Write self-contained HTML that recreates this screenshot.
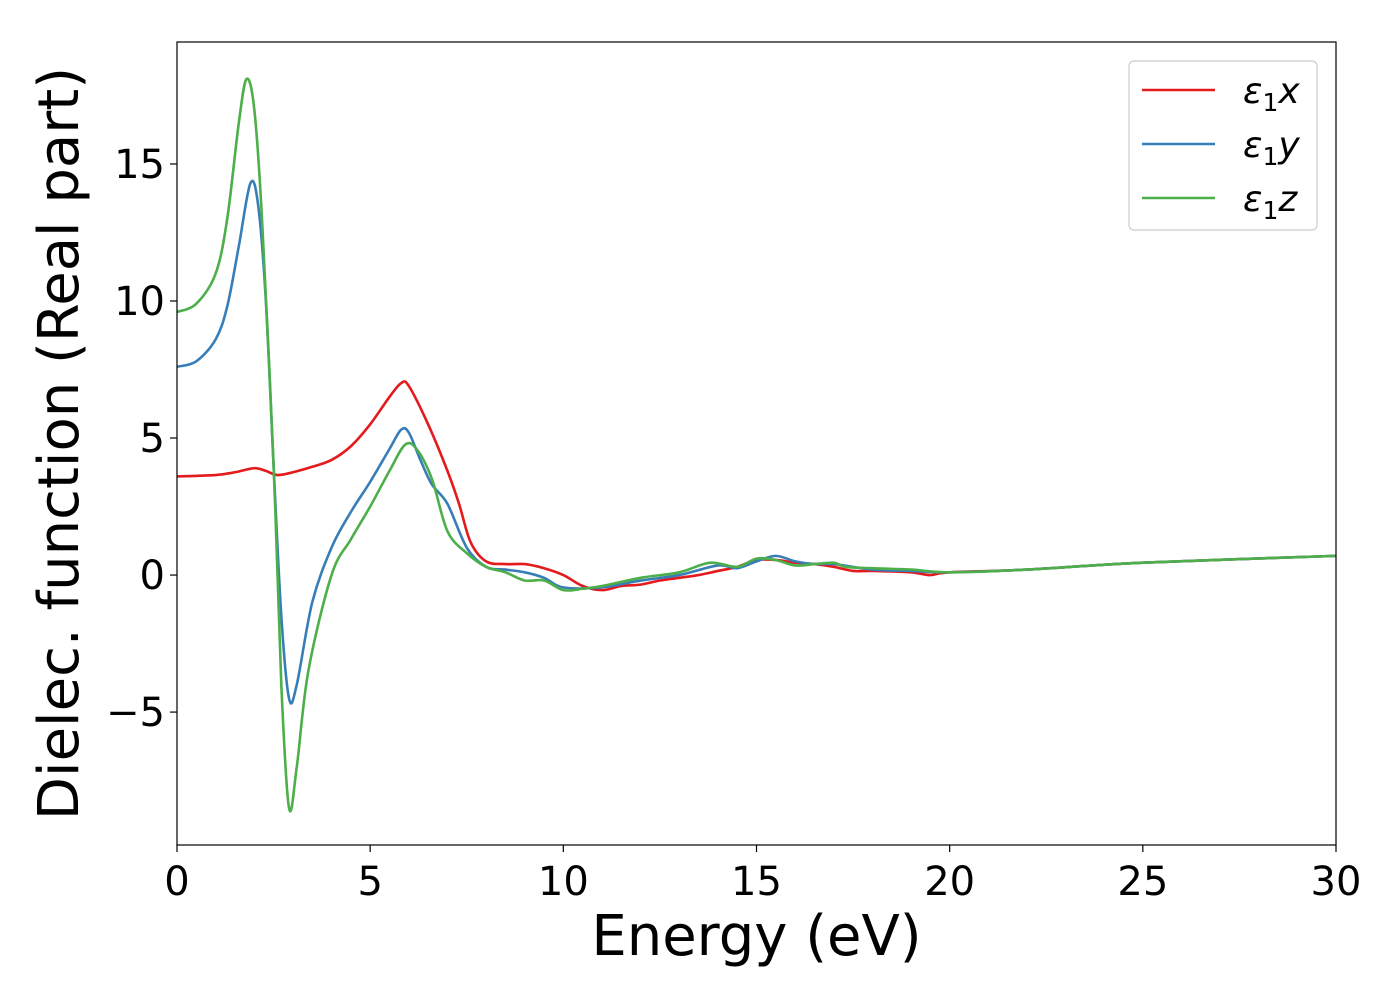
<!DOCTYPE html>
<html><head><meta charset="utf-8"><style>
body{margin:0;background:#fff}
svg text{font-family:"DejaVu Sans","Liberation Sans",sans-serif;fill:#000}
</style></head><body>
<svg id="chart" width="1400" height="1000" xmlns="http://www.w3.org/2000/svg">
<rect width="1400" height="1000" fill="#fff"/>
<g id="plot"></g>
</svg>
<script>
const xTicks=[0,5,10,15,20,25,30];
const yTicks=[-5,0,5,10,15];
const yTickLabels=["\u22125","0","5","10","15"];
const seriesNames=["ε1x","ε1y","ε1z"];
const xE=[0,1,1.5,2,2.3,2.6,3,3.5,4,4.5,5,5.5,5.8,6,6.5,7,7.3,7.6,8,8.5,9,9.5,10,10.5,11,11.5,12,12.5,13,13.5,14,14.5,15,15.5,16,16.5,17,17.5,18,19,19.5,20,22,25,30];
const xV=[3.6,3.65,3.75,3.9,3.8,3.65,3.75,3.95,4.2,4.7,5.5,6.5,7.0,6.9,5.5,3.8,2.6,1.2,0.5,0.4,0.4,0.25,0.0,-0.4,-0.55,-0.4,-0.35,-0.2,-0.1,0.0,0.15,0.3,0.55,0.55,0.45,0.4,0.3,0.15,0.15,0.1,0.0,0.1,0.2,0.45,0.7];
const yE=[0,0.5,1,1.3,1.6,1.9,2.1,2.3,2.5,2.7,2.9,3.1,3.5,4,4.5,5,5.5,5.8,6,6.3,6.6,7,7.5,8,8.5,9,9.5,10,11,12,13,14,14.5,15,15.5,16,16.5,17,18,19,20,22,25,30];
const yV=[7.6,7.8,8.6,9.8,12.0,14.3,13.5,10,4,-1.5,-4.5,-4,-1,1.0,2.3,3.4,4.6,5.3,5.2,4.2,3.3,2.6,1.0,0.3,0.2,0.1,-0.1,-0.45,-0.45,-0.2,0.0,0.35,0.25,0.5,0.7,0.5,0.4,0.4,0.2,0.15,0.1,0.2,0.45,0.7];
const zE=[0,0.5,1,1.3,1.6,1.8,2.0,2.2,2.5,2.7,2.9,3.1,3.4,4,4.5,5,5.5,5.9,6.2,6.6,7,7.5,8,8.5,9,9.5,10,10.5,11,12,13,13.8,14.5,15,15.5,16,16.5,17,17.3,18,19,20,22,25,30];
const zV=[9.6,9.9,11,13,16.5,18.1,17,13,4,-4,-8.5,-7,-3.5,0,1.3,2.5,3.8,4.75,4.6,3.5,1.6,0.8,0.3,0.1,-0.2,-0.2,-0.55,-0.5,-0.4,-0.1,0.1,0.45,0.3,0.6,0.55,0.35,0.4,0.45,0.3,0.25,0.2,0.1,0.2,0.45,0.7];
const colors=["#e41a1c","#377eb8","#4daf4a"];
const L=177,R=1336,T=42,B=845,xMin=0,xMax=30,yMin=-9.85,yMax=19.45;
const sx=v=>L+(v-xMin)/(xMax-xMin)*(R-L);
const sy=v=>B-(v-yMin)/(yMax-yMin)*(B-T);
const g=document.getElementById('plot');
const NS="http://www.w3.org/2000/svg";
function mk(t,a){const e=document.createElementNS(NS,t);for(const k in a)e.setAttribute(k,a[k]);g.appendChild(e);return e;}
function path(E,V){const p=E.map((e,i)=>[sx(e),sy(V[i])]);let d="M"+p[0][0]+","+p[0][1];
for(let i=0;i<p.length-1;i++){const p0=p[Math.max(0,i-1)],p1=p[i],p2=p[i+1],p3=p[Math.min(p.length-1,i+2)];
const c1=[p1[0]+(p2[0]-p0[0])/6,p1[1]+(p2[1]-p0[1])/6],c2=[p2[0]-(p3[0]-p1[0])/6,p2[1]-(p3[1]-p1[1])/6];
d+=`C${c1[0]},${c1[1]} ${c2[0]},${c2[1]} ${p2[0]},${p2[1]}`;}return d;}
const cp=mk('clipPath',{id:'cp'});const cr=document.createElementNS(NS,'rect');cr.setAttribute('x',L);cr.setAttribute('y',T);cr.setAttribute('width',R-L);cr.setAttribute('height',B-T);cp.appendChild(cr);
[[xE,xV],[yE,yV],[zE,zV]].forEach((s,i)=>{const p=mk('path',{d:path(s[0],s[1]),fill:'none',stroke:colors[i],'stroke-width':2.6,'clip-path':'url(#cp)'});

});
const fr=mk('rect',{x:L,y:T,width:R-L,height:B-T,fill:'none',stroke:'#000','stroke-width':1.2});


xTicks.forEach(v=>{mk('line',{x1:sx(v),x2:sx(v),y1:B,y2:B+7,stroke:'#000','stroke-width':1.2});
const t=mk('text',{x:sx(v),y:B+50,'font-size':40,'text-anchor':'middle'});t.textContent=v;

});
yTicks.forEach((v,i)=>{mk('line',{x1:L-7,x2:L,y1:sy(v),y2:sy(v),stroke:'#000','stroke-width':1.2});
const t=mk('text',{x:L-12,y:sy(v)+14,'font-size':40,'text-anchor':'end'});t.textContent=yTickLabels[i];

});
const xl=mk('text',{x:(L+R)/2,y:955,'font-size':56,'text-anchor':'middle'});xl.textContent="Energy (eV)";


const yl=mk('text',{x:0,y:0,'font-size':56,'text-anchor':'middle',transform:`translate(78,${(T+B)/2}) rotate(-90)`});yl.textContent="Dielec. function (Real part)";


const lb=mk('rect',{x:1129,y:61,width:188,height:169,rx:5,fill:'#fff',stroke:'#ccc','stroke-width':1.2});


seriesNames.forEach((n,i)=>{const y=90+i*54;
mk('line',{x1:1142,x2:1215,y1:y,y2:y,stroke:colors[i],'stroke-width':2.6});
const t=mk('text',{x:1243,y:y+13,'font-size':36,'font-style':'italic'});
t.innerHTML=`ε<tspan font-size="25" font-style="normal" dy="8">1</tspan><tspan dy="-8">${['x','y','z'][i]}</tspan>`;

});
</script>
</body></html>
